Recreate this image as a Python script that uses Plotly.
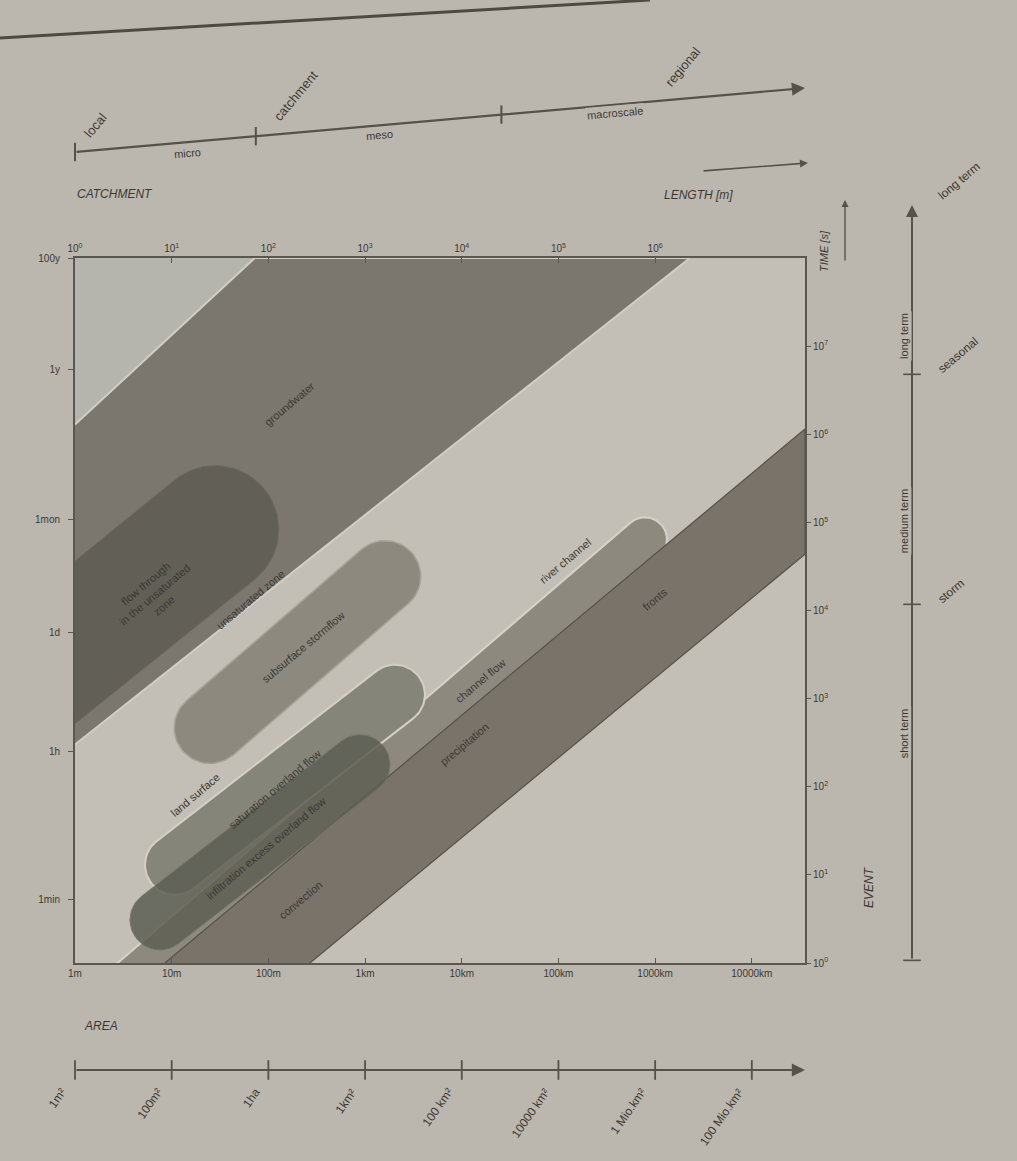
import numpy as np
import plotly.graph_objects as go

# ---------------- figure geometry ----------------
W, H = 1017, 1161
ML, MR, MT, MB = 75, 212, 258, 198
X_RANGE = [0.0, 7.55]   # log10 length [m]
Y_RANGE = [0.0, 8.0]    # log10 time [s]
PW, PH = W - ML - MR, H - MT - MB
KY = (PH / (Y_RANGE[1] - Y_RANGE[0])) / (PW / (X_RANGE[1] - X_RANGE[0]))

# ---------------- data ----------------
length_vals = [0, 1, 2, 3, 4, 5, 6, 7]
length_labels = ["1m", "10m", "100m", "1km", "10km", "100km", "1000km", "10000km"]
top_length_vals = [0, 1, 2, 3, 4, 5, 6]
top_length_labels = ["10<sup>%d</sup>" % v for v in top_length_vals]
time_vals = [0, 1, 2, 3, 4, 5, 6, 7]
time_labels = ["10<sup>%d</sup>" % v for v in time_vals]
left_time_vals = [0.72, 2.40, 3.75, 5.03, 6.73, 8.0]
left_time_labels = ["1min", "1h", "1d", "1mon", "1y", "100y"]
area_labels = ["1m²", "100m²", "1ha", "1km²", "100 km²", "10000 km²",
               "1 Mio.km²", "100 Mio.km²"]

# catchment scale (log10 length)
catch_ticks = [0.0, 1.87, 4.41]
catch_inline = ["micro", "meso", "macroscale"]
catch_inline_x = [1.0, 3.15, 5.9]
catch_diag = ["local", "catchment", "regional"]
catch_diag_x = [0.03, 2.0, 6.05]

# event scale (log10 time, same as right axis)
event_ticks = [0.03, 4.07, 6.68]
event_diag = ["storm", "seasonal", "long term"]
event_diag_y = [4.02, 6.63, 8.6]
event_vert = ["short term", "medium term", "long term"]
event_vert_y = [2.3, 5.4, 7.4]

# process regions: polygons (log10 length, log10 time)
upper_x = [0.0, 0.0, 1.86]
upper_y = [6.11, 8.0, 8.0]
gw_x = [0.0, 1.86, 6.36, 0.0]
gw_y = [6.11, 8.0, 8.0, 2.48]
precip_x = [0.93, 7.55, 7.55, 2.43]
precip_y = [0.0, 6.06, 4.64, 0.0]

# process regions: stadium shaped (end1 x,y, end2 x,y, radius)
unsat_pill = [-1.375, 2.43, 1.448, 4.92, 0.66]
channel_pill = [0.465, -0.307, 5.894, 4.807, 0.228]
subsurf_pill = [1.396, 2.67, 3.206, 4.386, 0.37]
sat_pill = [1.034, 1.114, 3.309, 3.045, 0.31]
inf_pill = [0.879, 0.489, 2.947, 2.25, 0.31]

# labels inside the chart: text, x, y
proc_labels = [
    ("groundwater", 2.22, 6.34),
    ("flow through<br>in the unsaturated<br>zone", 0.83, 4.18),
    ("unsaturated zone", 1.81, 4.12),
    ("subsurface stormflow", 2.36, 3.59),
    ("land surface", 1.24, 1.91),
    ("saturation overland flow", 2.07, 1.97),
    ("infiltration excess overland flow", 1.98, 1.30),
    ("convection", 2.33, 0.72),
    ("channel flow", 4.19, 3.2),
    ("river channel", 5.07, 4.56),
    ("precipitation", 4.03, 2.48),
    ("fronts", 6.0, 4.13),
]

# ---------------- helpers ----------------
def stadium(x1, y1, x2, y2, r, n=40):
    a = np.array([x1, y1 * KY])
    b = np.array([x2, y2 * KY])
    d = b - a
    ang = np.arctan2(d[1], d[0])
    t_b = np.linspace(ang - np.pi / 2, ang + np.pi / 2, n)
    t_a = np.linspace(ang + np.pi / 2, ang + 3 * np.pi / 2, n)
    pb = b[:, None] + r * np.vstack([np.cos(t_b), np.sin(t_b)])
    pa = a[:, None] + r * np.vstack([np.cos(t_a), np.sin(t_a)])
    pts = np.hstack([pb, pa, pb[:, :1]])
    return pts[0], pts[1] / KY


def xp(X):   # data x -> paper
    return (X - X_RANGE[0]) / (X_RANGE[1] - X_RANGE[0])


def yp(Y):   # data y -> paper
    return (Y - Y_RANGE[0]) / (Y_RANGE[1] - Y_RANGE[0])


def pyp(py):  # pixel y -> paper
    return (H - MB - py) / PH


def pxp(px):  # pixel x -> paper
    return (px - ML) / PW


TXT = "#3b3833"
FONT = "Liberation Sans, Arial, sans-serif"
PAPER = "#bcb7ae"

fig = go.Figure()


def poly(x, y, fill, line="rgba(0,0,0,0)", lw=0.0, opacity=1.0):
    fig.add_trace(go.Scatter(x=list(x), y=list(y), mode="lines", fill="toself",
                             fillcolor=fill, line=dict(color=line, width=lw),
                             opacity=opacity, hoverinfo="skip", showlegend=False))


poly(upper_x, upper_y, "#b6b5ad")
poly(gw_x, gw_y, "#7b776e", "#d2cec5", 2.0)
poly(*stadium(*unsat_pill), "#625f56", "#6e6a61", 1.0)
poly(*stadium(*channel_pill), "#8e897f", "#d6d2c9", 2.0)
poly(precip_x, precip_y, "#79736a", "#55514a", 1.2)
poly(*stadium(*subsurf_pill), "#8d897f", "#a6a298", 1.5)
poly(*stadium(*sat_pill), "#85857a", "#d4d0c7", 2.0)
poly(*stadium(*inf_pill), "#5e5f54", "#6f6f64", 1.0, opacity=0.85)

# invisible trace to activate secondary axes
fig.add_trace(go.Scatter(x=[X_RANGE[0]], y=[Y_RANGE[0]], xaxis="x2", yaxis="y2",
                         mode="markers", marker=dict(opacity=0), hoverinfo="skip",
                         showlegend=False))

ann = []
for t, x, y in proc_labels:
    ann.append(dict(x=x, y=y, xref="x", yref="y", text=t, showarrow=False,
                    textangle=-40, font=dict(size=11, color=TXT, family=FONT)))

# ---------------- catchment scale (top) ----------------
def catch_y(X):
    px = ML + xp(X) * PW
    return pyp(152 - 64 * (px - 75) / 730)

shapes = []
ann.append(dict(x=1.0, y=pyp(88), xref="paper", yref="paper", text="", showarrow=True,
                ax=-730, ay=64, arrowhead=2, arrowsize=1.2, arrowwidth=2.2,
                arrowcolor="#55524b"))
for X in catch_ticks:
    shapes.append(dict(type="line", xref="paper", yref="paper",
                       x0=xp(X), x1=xp(X), y0=catch_y(X) - 0.013, y1=catch_y(X) + 0.013,
                       line=dict(color="#55524b", width=2)))
for t, X in zip(catch_inline, catch_inline_x):
    ann.append(dict(x=xp(X), y=catch_y(X), xref="paper", yref="paper", text=t,
                    showarrow=False, textangle=-5, bgcolor=PAPER,
                    font=dict(size=11, color=TXT, family=FONT)))
for t, X in zip(catch_diag, catch_diag_x):
    ann.append(dict(x=xp(X), y=catch_y(X) + 0.012, xref="paper", yref="paper", text=t,
                    showarrow=False, textangle=-50, xanchor="left", yanchor="bottom",
                    font=dict(size=13, color=TXT, family=FONT)))
ann.append(dict(x=0.0, y=pyp(185), xref="paper", yref="paper", text="<i>CATCHMENT</i>",
                showarrow=False, xanchor="left", font=dict(size=12, color=TXT, family=FONT)))
ann.append(dict(x=pxp(735), y=pyp(186), xref="paper", yref="paper", text="<i>LENGTH [m]</i>",
                showarrow=False, font=dict(size=12, color=TXT, family=FONT)))
ann.append(dict(x=pxp(808), y=pyp(163), xref="paper", yref="paper", text="", showarrow=True,
                ax=-106, ay=8, arrowhead=2, arrowwidth=1.6, arrowcolor="#55524b"))

# ---------------- time labels (right) ----------------
ann.append(dict(x=pxp(832), y=pyp(228), xref="paper", yref="paper", text="<i>TIME [s]</i>",
                showarrow=False, textangle=-90, font=dict(size=11, color=TXT, family=FONT)))
ann.append(dict(x=pxp(845), y=pyp(200), xref="paper", yref="paper", text="", showarrow=True,
                ax=0, ay=62, arrowhead=2, arrowwidth=1.4, arrowcolor="#55524b"))

# ---------------- event scale (far right) ----------------
EX = pxp(912)
ann.append(dict(x=EX, y=pyp(205), xref="paper", yref="paper", text="", showarrow=True,
                ax=0, ay=755, arrowhead=2, arrowsize=1.2, arrowwidth=2.0,
                arrowcolor="#55524b"))
for Y in event_ticks:
    shapes.append(dict(type="line", xref="paper", yref="paper", x0=EX - 0.012, x1=EX + 0.012,
                       y0=yp(Y), y1=yp(Y), line=dict(color="#55524b", width=1.6)))
for t, Y in zip(event_diag, event_diag_y):
    ann.append(dict(x=EX + 0.028, y=yp(Y), xref="paper", yref="paper", text=t,
                    showarrow=False, textangle=-40, xanchor="left", yanchor="bottom",
                    font=dict(size=12, color=TXT, family=FONT)))
for t, Y in zip(event_vert, event_vert_y):
    ann.append(dict(x=EX, y=yp(Y), xref="paper", yref="paper", text=t,
                    showarrow=False, textangle=-90, bgcolor=PAPER,
                    font=dict(size=11, color=TXT, family=FONT)))
ann.append(dict(x=pxp(878), y=pyp(910), xref="paper", yref="paper", text="<i>EVENT</i>",
                showarrow=False, textangle=-90, font=dict(size=12, color=TXT, family=FONT)))

# ---------------- area scale (bottom) ----------------
AY = pyp(1070)
ann.append(dict(x=1.0, y=AY, xref="paper", yref="paper", text="", showarrow=True,
                ax=-730, ay=0, arrowhead=2, arrowsize=1.2, arrowwidth=2.2,
                arrowcolor="#55524b"))
for X, t in zip(length_vals, area_labels):
    shapes.append(dict(type="line", xref="paper", yref="paper", x0=xp(X), x1=xp(X),
                       y0=AY - 0.014, y1=AY + 0.014, line=dict(color="#55524b", width=1.8)))
    ann.append(dict(x=xp(X) - 0.004, y=AY - 0.018, xref="paper", yref="paper", text=t,
                    showarrow=False, textangle=-55, xanchor="right", yanchor="top",
                    font=dict(size=12, color=TXT, family=FONT)))
ann.append(dict(x=0.01, y=pyp(1035), xref="paper", yref="paper", text="<i>AREA</i>",
                showarrow=False, xanchor="left", font=dict(size=12, color=TXT, family=FONT)))

# header rule of the page
shapes.append(dict(type="line", xref="paper", yref="paper", x0=pxp(0), y0=pyp(38),
                   x1=pxp(650), y1=pyp(0), line=dict(color="#4d4a44", width=3)))

axis_common = dict(showgrid=False, zeroline=False, fixedrange=True,
                   tickfont=dict(size=10, color=TXT, family=FONT),
                   linecolor="#5a5750", tickcolor="#5a5750")

fig.update_layout(
    width=W, height=H,
    margin=dict(l=ML, r=MR, t=MT, b=MB),
    paper_bgcolor=PAPER, plot_bgcolor="#c3bfb6",
    showlegend=False,
    xaxis=dict(range=X_RANGE, tickvals=length_vals, ticktext=length_labels,
               ticks="inside", ticklen=5, showline=True, linewidth=2, **axis_common),
    xaxis2=dict(range=X_RANGE, overlaying="x", side="top", tickvals=top_length_vals,
                ticktext=top_length_labels, ticks="inside", ticklen=5, showline=True,
                linewidth=1.5, **axis_common),
    yaxis=dict(range=Y_RANGE, tickvals=left_time_vals, ticktext=left_time_labels,
               ticks="outside", ticklen=5, ticklabelstandoff=6, showline=True,
               linewidth=2, **axis_common),
    yaxis2=dict(range=Y_RANGE, overlaying="y", side="right", tickvals=time_vals,
                ticktext=time_labels, ticks="outside", ticklen=4, showline=True,
                linewidth=2, **axis_common),
    annotations=ann,
    shapes=shapes,
    font=dict(family=FONT, color=TXT),
)

fig.write_html("out.html", config={"displayModeBar": False},
               post_script="document.body.style.margin='0px';"
                           "document.body.style.background='%s';" % PAPER)
